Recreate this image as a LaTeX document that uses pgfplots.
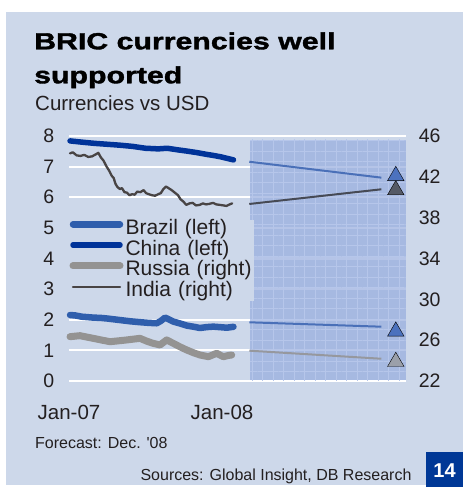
\documentclass[border=0pt]{standalone}
\usepackage{fontspec}
\setmainfont{Liberation Sans}
\newfontfamily\titlefont[FakeStretch=1.3,FakeBold=1.6]{Liberation Sans}
\usepackage{pgfplots}
\pgfplotsset{compat=1.18}
\usetikzlibrary{patterns.meta}

\definecolor{panel}{RGB}{205,216,234}
\definecolor{shade}{RGB}{150,172,222}
\definecolor{hatchcol}{RGB}{182,198,234}
\definecolor{txt}{RGB}{35,31,32}
\definecolor{brazilc}{RGB}{47,94,172}
\definecolor{chinac}{RGB}{0,51,153}
\definecolor{russiac}{RGB}{148,147,146}
\definecolor{indiac}{RGB}{72,68,68}
\definecolor{fcblue}{RGB}{74,112,184}
\definecolor{fcdark}{RGB}{70,74,85}
\definecolor{fcgray}{RGB}{150,152,158}
\definecolor{triblue}{RGB}{76,114,190}
\definecolor{tridark}{RGB}{85,90,102}
\definecolor{trigray}{RGB}{155,160,170}
\definecolor{boxblue}{RGB}{0,56,150}

\pgfplotsset{
  brazil/.style={brazilc, line width=6.5bp, line cap=round, line join=round},
  china/.style={chinac, line width=5.5bp, line cap=round, line join=round},
  russia/.style={russiac, line width=7bp, line cap=round, line join=round},
  india/.style={indiac, line width=2.3bp, line cap=round, line join=round},
  base/.style={
    scale only axis, width=336.6bp, height=245bp,
    xmin=0, xmax=26.4, clip=false,
    axis line style={draw=none}, major tick length=0pt,
    /pgf/number format/assume math mode=true,
    tick label style={text=txt, font=\fontsize{19.5bp}{22bp}\selectfont},
  },
}

\begin{document}
\begin{tikzpicture}
\fill[white] (-69bp,-106bp) rectangle (394bp,381bp);
\fill[panel] (-63bp,-104bp) rectangle (394bp,369bp);

% left axis: Brazil, China
\begin{axis}[base,
  ymin=0, ymax=8,
  axis x line*=bottom, axis y line*=left,
  xtick={0,12}, xticklabels={Jan-07,Jan-08},
  xticklabel style={anchor=base, inner sep=0pt, yshift=-38bp, font=\fontsize{20.5bp}{24bp}\selectfont},
  ytick={0,...,8},
  yticklabel style={anchor=east, inner sep=0pt, xshift=-14.5bp},
  ymajorgrids, grid style={white, line width=2.2bp},
  legend style={at={(axis cs:0,5.264)}, anchor=north west, fill=panel, draw=none,
    inner sep=0pt, outer sep=0pt, row sep=1.8bp, text=txt,
    font=\fontsize{21bp}{24bp}\selectfont,
    nodes={inner sep=0pt, text height=14.5bp, text depth=4.5bp, text width=128bp, align=left},
    /tikz/every odd column/.append style={column sep=1.5bp}},
  legend cell align=left,
  legend image code/.code={
    \path[draw=none, fill=none] (0bp,-3bp) rectangle (55bp,3bp);
    \draw[#1] (4bp,5bp) -- (51bp,5bp);},
]
\addlegendimage{brazil}
\addlegendimage{china}
\addlegendimage{russia}
\addlegendimage{india}
\legend{Brazil (left),China (left),Russia (right),India (right)}

% forecast period
\addplot[draw=none, fill=shade, fill opacity=0.7, forget plot]
  coordinates {(14.2,0.03) (26.4,0.03) (26.4,7.87) (14.2,7.87)};
\addplot[draw=none, pattern={Hatch[distance=10.5bp,angle=0,line width=0.9bp]},
  pattern color=hatchcol, forget plot]
  coordinates {(14.2,0.03) (26.4,0.03) (26.4,7.87) (14.2,7.87)};

% China
\addplot[china, forget plot] coordinates {
  (0.08,7.84) (1,7.80) (2,7.76) (3,7.73) (4,7.70) (5,7.66) (6,7.60) (7,7.58)
  (7.7,7.60) (8.5,7.55) (9.2,7.51) (10,7.46) (10.8,7.40) (11.4,7.36) (11.9,7.32)
  (12.4,7.27) (12.9,7.22)};
% Brazil
\addplot[brazil, forget plot] coordinates {
  (0.08,2.155) (0.5,2.14) (1,2.10) (1.9,2.07) (2.5,2.06) (3,2.04) (4,1.99)
  (4.8,1.95) (5.57,1.92) (6.2,1.90) (6.88,1.885) (7.2,1.96) (7.53,2.07)
  (7.8,2.02) (8.18,1.94) (8.7,1.88) (9.23,1.81) (9.8,1.77) (10.27,1.73)
  (10.8,1.76) (11.32,1.775) (11.8,1.76) (12.37,1.74) (12.9,1.77)};

% forecasts (left)
\addplot[fcblue, line width=2bp, forget plot] coordinates {(14.14,7.16) (24.5,6.64)};
\addplot[fcblue, line width=2bp, forget plot] coordinates {(14.14,1.917) (24.5,1.773)};
\addplot[only marks, mark=triangle*, mark size=9.5bp, mark options={fill=triblue, draw=none}, forget plot]
  coordinates {(25.63,1.62)};
\end{axis}

% right axis: Russia, India
\begin{axis}[base,
  ymin=22, ymax=46,
  axis x line=none, axis y line*=right,
  ytick={22,26,...,46},
  yticklabel style={anchor=west, inner sep=0pt, xshift=13bp},
]
% India
\addplot[india] coordinates {
  (0.08,44.3) (0.3,44.4) (0.6,44.1) (0.9,44.05) (1.2,44.15) (1.5,43.95) (1.8,44.0)
  (2.1,44.2) (2.3,44.35) (2.5,43.9) (2.7,43.6) (2.95,43.0) (3.15,42.6) (3.35,42.1)
  (3.5,41.9) (3.65,41.3) (3.8,41.0) (4.0,40.8) (4.15,40.9) (4.35,40.5) (4.55,40.45)
  (4.75,40.2) (4.95,40.3) (5.15,40.25) (5.35,40.55) (5.6,40.5) (5.85,40.7) (6.05,40.4)
  (6.25,40.3) (6.5,40.2) (6.75,40.15) (7.0,40.3) (7.2,40.4) (7.4,40.8) (7.6,41.05)
  (7.8,40.9) (8.05,40.7) (8.3,40.45) (8.55,40.2) (8.75,39.8) (8.95,39.6) (9.2,39.25)
  (9.45,39.4) (9.7,39.45) (9.95,39.2) (10.25,39.25) (10.5,39.4) (10.75,39.3)
  (11.0,39.35) (11.3,39.45) (11.55,39.3) (11.85,39.25) (12.1,39.2) (12.35,39.15)
  (12.6,39.3) (12.8,39.4)};
% Russia
\addplot[russia] coordinates {
  (0.08,26.34) (0.86,26.44) (1.9,26.18) (2.6,26.0) (3.22,25.85) (4.0,25.95)
  (4.52,26.02) (5.57,26.18) (6.1,25.9) (6.6,25.69) (7.14,25.53) (7.66,26.02)
  (8.18,25.69) (8.7,25.35) (9.23,25.04) (9.8,24.75) (10.27,24.55) (10.93,24.38)
  (11.58,24.71) (12.1,24.38) (12.5,24.5) (12.76,24.55)};

% forecasts (right)
\addplot[fcdark, line width=2bp] coordinates {(14.14,39.34) (24.5,40.78)};
\addplot[fcgray, line width=2bp] coordinates {(14.14,24.97) (24.5,24.18)};
\addplot[only marks, mark=triangle*, mark size=9.5bp, mark options={fill=tridark, draw=none}]
  coordinates {(25.63,40.71)};
\addplot[only marks, mark=triangle*, mark size=9.5bp, mark options={fill=trigray, draw=none}]
  coordinates {(25.63,23.89)};
% China's forecast mark, read on the right scale (6.70 left = 42.1 right), drawn on top
\addplot[only marks, mark=triangle*, mark size=9.5bp, mark options={fill=triblue, draw=none}]
  coordinates {(25.63,42.10)};
\end{axis}

\node[anchor=base west, inner sep=0pt, text=black, font=\titlefont\bfseries\fontsize{23.3bp}{28bp}\selectfont]
  at (-35bp,331.7bp) {BRIC currencies well};
\node[anchor=base west, inner sep=0pt, text=black, font=\titlefont\bfseries\fontsize{23.3bp}{28bp}\selectfont]
  at (-35bp,297.7bp) {supported};
\node[anchor=base west, inner sep=0pt, text=txt, font=\fontsize{20.5bp}{24bp}\selectfont]
  at (-34bp,270bp) {Currencies vs USD};
\node[anchor=base west, inner sep=0pt, text=txt, font=\fontsize{16bp}{19bp}\selectfont]
  at (-34bp,-67bp) {Forecast: Dec. \textquotesingle 08};
\node[anchor=base east, inner sep=0pt, text=txt, font=\fontsize{16bp}{19bp}\selectfont]
  at (342.7bp,-99bp) {Sources: Global Insight, DB Research};
\fill[boxblue] (357bp,-106bp) rectangle (394bp,-71bp);
\node[anchor=base, inner sep=0pt, text=white, font=\bfseries\fontsize{20bp}{24bp}\selectfont]
  at (375.5bp,-96bp) {14};

\pgfresetboundingbox
\useasboundingbox (-69bp,-106bp) rectangle (394bp,381bp);
\end{tikzpicture}
\end{document}
